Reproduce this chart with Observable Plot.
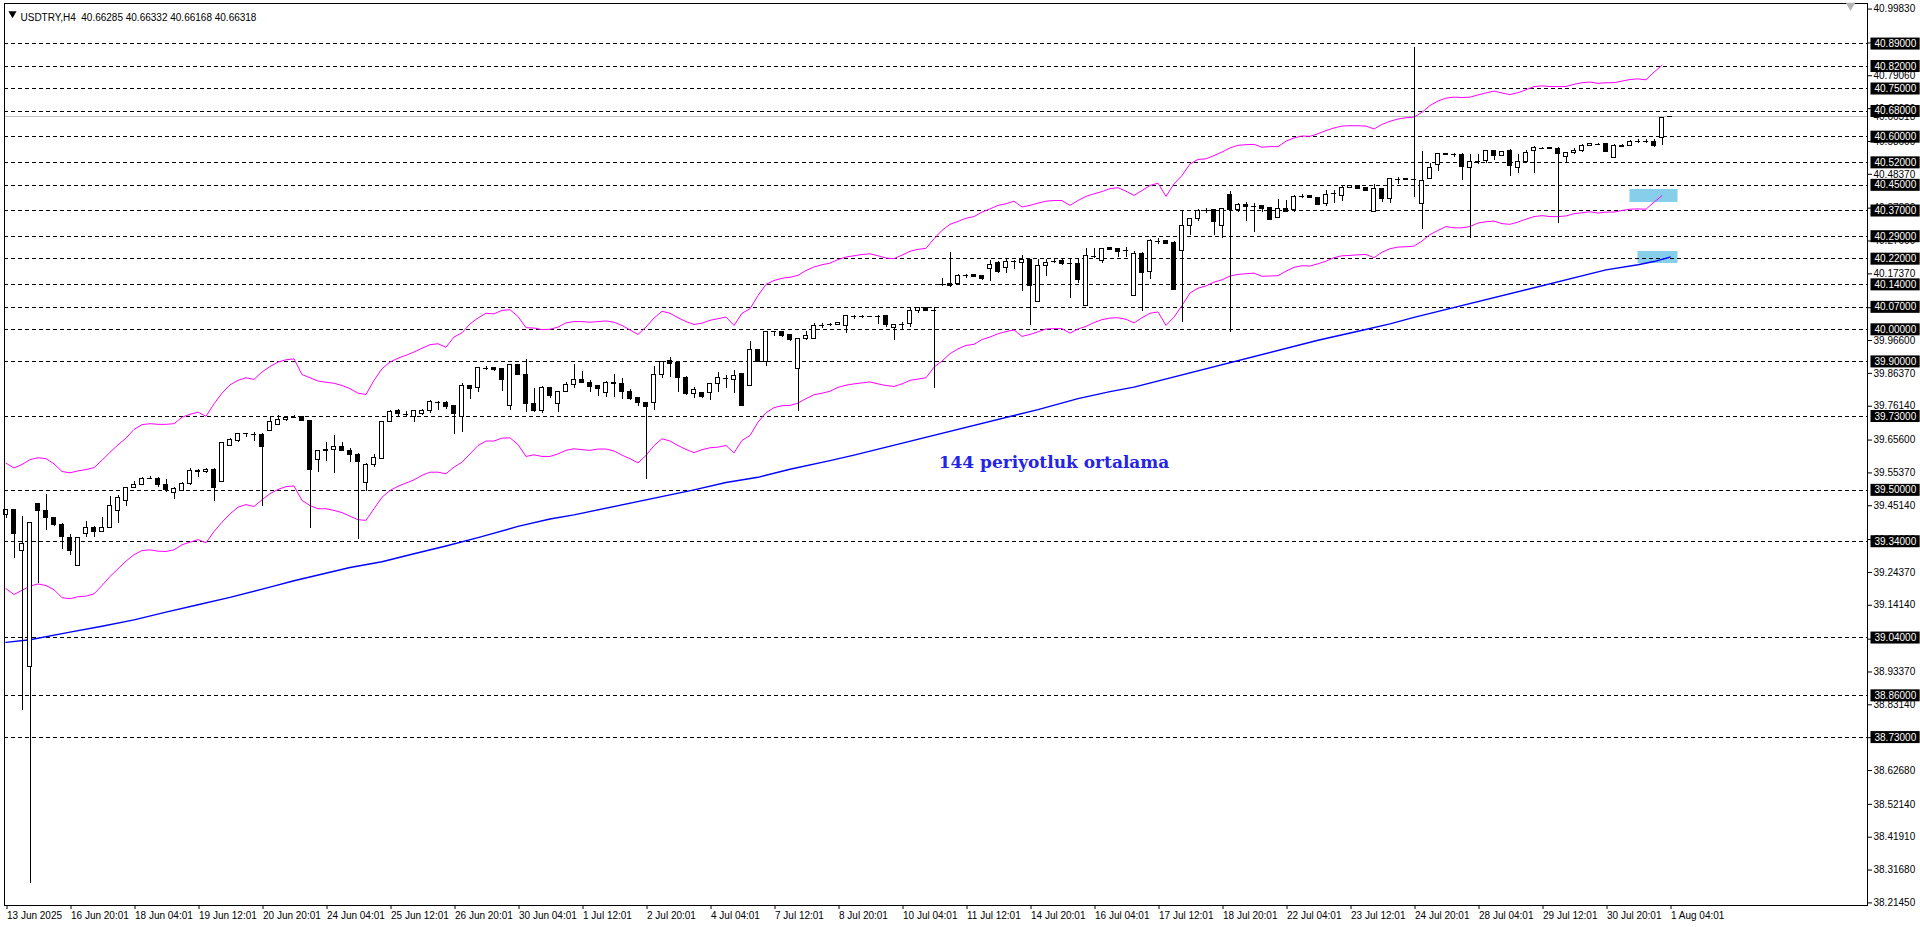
<!DOCTYPE html>
<html><head><meta charset="utf-8">
<script src="https://cdn.jsdelivr.net/npm/d3@7"></script>
<script src="https://cdn.jsdelivr.net/npm/@observablehq/plot@0.6"></script>
<style>
html,body{margin:0;padding:0;background:#fff;overflow:hidden;}
#chart{position:absolute;left:0;top:0;width:1920px;height:927px;}
</style></head><body><div id="chart"></div>
<script>
// ---- data (USDTRY H4) ----
const openP = [39.424,39.437,39.309,38.950,39.457,39.435,39.413,39.393,39.352,39.264,
39.364,39.383,39.370,39.383,39.436,39.467,39.507,39.517,39.536,39.535,
39.517,39.492,39.498,39.519,39.557,39.556,39.563,39.526,39.638,39.654,
39.675,39.672,39.672,39.685,39.704,39.719,39.727,39.727,39.716,39.595,
39.623,39.626,39.635,39.623,39.611,39.523,39.578,39.597,39.713,39.748,
39.736,39.727,39.737,39.747,39.774,39.772,39.761,39.727,39.825,39.819,
39.880,39.880,39.878,39.763,39.890,39.859,39.769,39.748,39.819,39.769,
39.806,39.828,39.844,39.835,39.823,39.802,39.832,39.831,39.807,39.786,
39.771,39.772,39.859,39.901,39.895,39.848,39.799,39.803,39.803,39.831,
39.849,39.844,39.862,39.825,39.935,39.900,39.994,39.994,39.982,39.878,
39.970,39.971,40.013,40.015,40.015,40.012,40.041,40.041,40.041,40.042,
40.041,40.006,40.017,40.018,40.058,40.068,40.060,40.140,40.143,40.143,
40.169,40.170,40.166,40.188,40.206,40.193,40.212,40.208,40.218,40.087,
40.199,40.211,40.213,40.206,40.203,40.073,40.229,40.213,40.253,40.250,
40.246,40.105,40.236,40.179,40.276,40.277,40.270,40.246,40.323,40.344,
40.370,40.371,40.323,40.419,40.373,40.389,40.384,40.384,40.379,40.348,
40.377,40.373,40.415,40.415,40.411,40.392,40.425,40.415,40.441,40.447,
40.440,40.365,40.439,40.406,40.469,40.470,40.467,40.392,40.470,40.513,
40.548,40.544,40.545,40.504,40.524,40.526,40.557,40.540,40.555,40.504,
40.523,40.556,40.565,40.566,40.564,40.538,40.550,40.557,40.571,40.576,
40.577,40.535,40.572,40.573,40.586,40.586,40.585,40.597,40.66285];
const highP = [39.437,39.437,39.418,39.399,39.458,39.487,39.415,39.397,39.362,39.352,
39.403,39.387,39.415,39.481,39.484,39.509,39.526,39.538,39.541,39.538,
39.532,39.509,39.523,39.569,39.565,39.569,39.567,39.648,39.662,39.676,
39.676,39.679,39.678,39.729,39.734,39.730,39.731,39.727,39.716,39.623,
39.648,39.671,39.648,39.629,39.613,39.582,39.610,39.715,39.748,39.751,
39.744,39.748,39.752,39.779,39.775,39.776,39.764,39.831,39.825,39.881,
39.886,39.881,39.879,39.890,39.890,39.906,39.818,39.823,39.821,39.807,
39.834,39.892,39.870,39.840,39.823,39.839,39.860,39.849,39.813,39.790,
39.774,39.885,39.901,39.912,39.895,39.854,39.821,39.804,39.832,39.865,
39.857,39.873,39.862,39.963,39.935,39.994,39.994,39.994,39.982,39.971,
39.994,40.020,40.020,40.020,40.021,40.042,40.043,40.044,40.042,40.043,
40.043,40.015,40.023,40.065,40.069,40.070,40.070,40.158,40.240,40.172,
40.171,40.170,40.169,40.215,40.212,40.218,40.215,40.231,40.218,40.218,
40.218,40.223,40.219,40.221,40.221,40.252,40.252,40.252,40.257,40.250,
40.256,40.243,40.240,40.280,40.283,40.277,40.273,40.368,40.346,40.373,
40.376,40.373,40.376,40.430,40.392,40.396,40.392,40.384,40.379,40.404,
40.402,40.418,40.421,40.419,40.411,40.433,40.433,40.447,40.450,40.447,
40.440,40.451,40.440,40.470,40.475,40.470,40.880,40.555,40.517,40.548,
40.548,40.550,40.548,40.545,40.545,40.558,40.557,40.556,40.561,40.546,
40.558,40.571,40.568,40.566,40.566,40.553,40.565,40.578,40.581,40.580,
40.580,40.577,40.577,40.589,40.591,40.591,40.593,40.660,40.66332];
const lowP = [39.411,39.286,38.814,38.275,39.208,39.375,39.387,39.316,39.297,39.264,
39.351,39.351,39.370,39.380,39.395,39.450,39.507,39.513,39.532,39.509,
39.494,39.472,39.497,39.513,39.538,39.551,39.466,39.526,39.638,39.647,
39.665,39.653,39.450,39.685,39.700,39.714,39.724,39.716,39.380,39.556,
39.589,39.553,39.623,39.587,39.345,39.497,39.572,39.597,39.713,39.727,
39.725,39.710,39.731,39.738,39.748,39.750,39.672,39.681,39.781,39.803,
39.873,39.871,39.808,39.748,39.859,39.743,39.741,39.738,39.785,39.743,
39.806,39.816,39.833,39.805,39.793,39.790,39.790,39.781,39.779,39.762,
39.534,39.748,39.849,39.852,39.805,39.795,39.787,39.787,39.779,39.803,
39.816,39.802,39.762,39.825,39.899,39.886,39.980,39.977,39.964,39.746,
39.966,39.970,40.004,40.010,40.015,39.989,40.033,40.036,40.040,40.016,
40.006,39.967,40.000,40.008,40.051,40.055,39.818,40.134,40.132,40.136,
40.158,40.161,40.153,40.151,40.176,40.176,40.187,40.120,40.014,40.087,
40.164,40.205,40.199,40.098,40.143,40.073,40.221,40.205,40.245,40.226,
40.226,40.105,40.055,40.155,40.264,40.265,40.124,40.021,40.294,40.336,
40.361,40.294,40.284,39.991,40.366,40.338,40.301,40.366,40.342,40.348,
40.367,40.364,40.409,40.409,40.389,40.385,40.394,40.400,40.438,40.436,
40.431,40.364,40.396,40.392,40.452,40.466,40.413,40.312,40.470,40.491,
40.545,40.537,40.463,40.283,40.513,40.518,40.528,40.540,40.478,40.485,
40.521,40.487,40.562,40.561,40.330,40.517,40.544,40.553,40.571,40.572,
40.553,40.535,40.569,40.573,40.581,40.581,40.566,40.572,40.66168];
const closeP = [39.437,39.364,39.333,39.399,39.435,39.414,39.392,39.354,39.310,39.352,
39.382,39.370,39.383,39.451,39.476,39.507,39.515,39.535,39.536,39.517,
39.501,39.504,39.520,39.560,39.561,39.563,39.506,39.648,39.655,39.676,
39.675,39.672,39.634,39.713,39.719,39.726,39.726,39.716,39.563,39.623,
39.625,39.635,39.623,39.610,39.588,39.579,39.600,39.713,39.743,39.737,
39.736,39.747,39.747,39.774,39.773,39.759,39.737,39.824,39.815,39.881,
39.880,39.875,39.844,39.890,39.859,39.769,39.748,39.819,39.792,39.805,
39.828,39.844,39.833,39.821,39.816,39.834,39.834,39.805,39.784,39.771,
39.759,39.859,39.899,39.894,39.849,39.798,39.811,39.789,39.831,39.848,
39.849,39.857,39.762,39.935,39.899,39.994,39.994,39.980,39.968,39.971,
39.979,40.011,40.013,40.015,40.021,40.042,40.041,40.041,40.040,40.042,
40.015,40.015,40.017,40.059,40.068,40.058,40.059,40.140,40.136,40.168,
40.169,40.164,40.157,40.202,40.179,40.212,40.212,40.218,40.137,40.199,
40.208,40.211,40.205,40.205,40.155,40.229,40.229,40.252,40.248,40.241,
40.246,40.236,40.176,40.277,40.276,40.268,40.124,40.323,40.345,40.370,
40.370,40.336,40.375,40.373,40.389,40.382,40.384,40.377,40.342,40.376,
40.367,40.413,40.415,40.409,40.389,40.419,40.425,40.442,40.448,40.438,
40.431,40.439,40.406,40.470,40.469,40.466,40.465,40.464,40.503,40.548,
40.545,40.544,40.506,40.522,40.524,40.557,40.540,40.554,40.510,40.522,
40.551,40.566,40.565,40.561,40.547,40.551,40.557,40.571,40.577,40.576,
40.553,40.571,40.569,40.585,40.586,40.586,40.572,40.660,40.66318];

// Bollinger bands (upper / lower), one value per bar 0..207
const upperBand = [39.584,39.569,39.580,39.595,39.601,39.598,39.582,39.558,39.554,39.560,39.564,39.570,39.593,39.618,39.641,39.662,39.689,39.704,39.707,39.705,39.705,39.707,39.727,39.736,39.743,39.730,39.769,39.802,39.828,39.842,39.850,39.845,39.868,39.885,39.899,39.906,
39.909,39.860,39.850,39.840,39.836,39.833,39.826,39.816,39.802,39.798,39.842,39.878,39.899,39.911,39.920,39.930,39.942,39.953,39.956,39.945,39.977,39.990,40.018,40.036,40.051,40.049,40.060,40.062,40.041,40.006,40.005,40.000,40.001,40.008,40.021,
40.025,40.025,40.023,40.025,40.027,40.023,40.013,39.999,39.985,40.008,40.036,40.057,40.051,40.037,40.025,40.016,40.020,40.029,40.034,40.039,40.013,40.051,40.065,40.106,40.141,40.153,40.160,40.163,40.169,40.184,40.195,40.202,40.207,40.218,40.226,
40.230,40.234,40.236,40.230,40.223,40.221,40.232,40.244,40.250,40.253,40.283,40.309,40.328,40.337,40.347,40.352,40.366,40.376,40.387,40.392,40.400,40.382,40.387,40.394,40.400,40.402,40.402,40.387,40.402,40.415,40.423,40.430,40.439,40.442,
40.431,40.418,40.433,40.449,40.456,40.415,40.454,40.480,40.516,40.530,40.532,40.542,40.553,40.566,40.574,40.576,40.577,40.568,40.570,40.570,40.587,40.597,40.603,40.602,40.610,40.620,40.628,40.634,40.635,40.635,40.634,40.625,40.639,40.649,40.656,40.660,
40.662,40.677,40.698,40.712,40.721,40.724,40.723,40.724,40.731,40.737,40.743,40.737,40.732,40.738,40.747,40.757,40.759,40.757,40.757,40.757,40.764,40.769,40.771,40.767,40.769,40.769,40.774,40.779,40.781,40.778,40.802,40.823];
const lowerBand = [39.193,39.175,39.188,39.201,39.208,39.203,39.190,39.165,39.162,39.168,39.170,39.177,39.203,39.231,39.255,39.279,39.299,39.312,39.314,39.310,39.309,39.314,39.330,39.338,39.346,39.336,39.371,39.400,39.426,39.447,39.455,39.449,39.470,39.489,39.502,39.511,
39.513,39.468,39.452,39.442,39.442,39.437,39.430,39.419,39.408,39.406,39.442,39.478,39.499,39.512,39.522,39.532,39.546,39.556,39.556,39.551,39.572,39.587,39.613,39.639,39.653,39.653,39.662,39.663,39.642,39.605,39.610,39.605,39.605,39.613,39.624,
39.629,39.626,39.624,39.628,39.628,39.622,39.609,39.598,39.585,39.608,39.639,39.660,39.653,39.639,39.627,39.617,39.626,39.632,39.634,39.639,39.616,39.655,39.670,39.712,39.741,39.757,39.763,39.764,39.771,39.785,39.797,39.802,39.808,39.820,39.827,
39.831,39.834,39.837,39.831,39.826,39.823,39.831,39.842,39.846,39.850,39.883,39.902,39.925,39.940,39.951,39.954,39.969,39.977,39.987,39.994,39.999,39.979,39.985,39.993,40.002,40.003,40.003,39.989,40.002,40.010,40.022,40.031,40.036,40.037,
40.032,40.021,40.037,40.051,40.055,40.013,40.039,40.075,40.114,40.129,40.136,40.148,40.155,40.167,40.172,40.174,40.176,40.166,40.167,40.168,40.182,40.194,40.199,40.198,40.205,40.213,40.224,40.230,40.231,40.233,40.234,40.224,40.241,40.252,40.257,40.258,
40.260,40.276,40.296,40.309,40.321,40.317,40.317,40.321,40.332,40.336,40.338,40.330,40.328,40.335,40.344,40.352,40.355,40.352,40.352,40.354,40.361,40.364,40.367,40.363,40.366,40.366,40.371,40.375,40.376,40.375,40.397,40.417];

// 144-period moving average, read at these bars
const maBars   = [0,3,8,12,16,20,24,28,33,36,43,47,51,55,59,64,68,71,86,90,94,98,103,106,129,134,138,141,164,169,173,176,200,204,206,208];
const maValues = [39.026,39.034,39.058,39.076,39.096,39.120,39.143,39.166,39.198,39.218,39.259,39.277,39.302,39.326,39.352,39.387,39.410,39.423,39.501,39.524,39.540,39.565,39.592,39.609,39.751,39.785,39.807,39.821,39.967,39.995,40.018,40.038,40.186,40.202,40.212,40.226];

const levels = [40.89,40.82,40.75,40.68,40.60,40.52,40.45,40.37,40.29,40.22,40.14,40.07,40.00,39.90,39.73,39.50,39.34,39.04,38.86,38.73];
const priceTicks = [38.2145,38.3168,38.4191,38.5214,38.6268,38.7291,38.8314,38.9337,39.0360,39.1414,39.2437,39.3460,39.4514,39.5537,39.6560,39.7614,39.8637,39.9660,40.0683,40.1737,40.2760,40.3783,40.4837,40.5860,40.6883,40.7906,40.8929,40.9983];
const timeLabels = ["13 Jun 2025","16 Jun 20:01","18 Jun 04:01","19 Jun 12:01","20 Jun 20:01","24 Jun 04:01","25 Jun 12:01","26 Jun 20:01","30 Jun 04:01","1 Jul 12:01","2 Jul 20:01","4 Jul 04:01","7 Jul 12:01","8 Jul 20:01","10 Jul 04:01","11 Jul 12:01","14 Jul 20:01","16 Jul 04:01","17 Jul 12:01","18 Jul 20:01","22 Jul 04:01","23 Jul 12:01","24 Jul 20:01","28 Jul 04:01","29 Jul 12:01","30 Jul 20:01","1 Aug 04:01"];
const barsPerLabel = 8;
const bidPrice = 40.66318;
const titleText = "USDTRY,H4  40.66285 40.66332 40.66168 40.66318";
const noteText = "144 periyotluk ortalama";
const noteBar = 131, notePrice = 39.586;
const zoneBar1 = [203, 204], zoneBar2 = [209, 209];
const zoneTop = [40.4365, 40.2434], zoneBottom = [40.396, 40.206];

// ---- build ----
const candles = openP.map((o, i) => ({i, o, h: highP[i], l: lowP[i], c: closeP[i]}));
const isDoji = d => Math.abs(d.o - d.c) < 0.0016;
const bull = candles.filter(d => !isDoji(d) && d.c > d.o);
const bear = candles.filter(d => !isDoji(d) && d.c < d.o);
const doji = candles.filter(isDoji);
const upper = upperBand.map((v, i) => ({i, v}));
const lower = lowerBand.map((v, i) => ({i, v}));
const ma = maBars.map((b, k) => ({b, v: maValues[k]}));
const zones = zoneTop.map((t, k) => ({b1: zoneBar1[k], b2: zoneBar2[k], t, btm: zoneBottom[k]}));
const labelBars = timeLabels.map((_, k) => k * barsPerLabel);
const half = 0.25;
const LEVEL_FILL = "#fffffe", BID_FILL = "#010101";

const chart = Plot.plot({
  width: 1920, height: 927,
  marginLeft: 4, marginRight: 53, marginTop: 3, marginBottom: 22,
  style: {fontFamily: "'Liberation Sans', Arial, sans-serif", fontSize: "10px", color: "black", background: "white", overflow: "visible"},
  x: {type: "linear", domain: [-0.1875, 232.6875]},
  y: {type: "linear", domain: [38.2064, 41.0157]},
  marks: [
    Plot.rect(zones, {x1: "b1", x2: "b2", y1: "btm", y2: "t", fill: "#87ceeb"}),
    Plot.ruleY(levels, {stroke: "black", strokeDasharray: "4,3", shapeRendering: "crispEdges"}),
    Plot.ruleY([bidPrice], {stroke: "#c0c0c0", shapeRendering: "crispEdges"}),
    Plot.line(upper, {x: "i", y: "v", stroke: "#ff00ff", strokeWidth: 1}),
    Plot.line(lower, {x: "i", y: "v", stroke: "#ff00ff", strokeWidth: 1}),
    Plot.line(ma, {x: "b", y: "v", stroke: "#0000ff", strokeWidth: 1.4}),
    Plot.ruleX(candles, {x: "i", y1: "l", y2: "h", stroke: "black", shapeRendering: "crispEdges"}),
    Plot.rect(bull, {x1: d => d.i - half, x2: d => d.i + half, y1: "o", y2: "c", fill: "white", stroke: "black", shapeRendering: "crispEdges"}),
    Plot.rect(bear, {x1: d => d.i - half, x2: d => d.i + half, y1: "o", y2: "c", fill: "black", stroke: "black", shapeRendering: "crispEdges"}),
    Plot.ruleY(doji, {y: "c", x1: d => d.i - half - 0.0625, x2: d => d.i + half + 0.0625, stroke: "black", shapeRendering: "crispEdges"}),
    Plot.text([noteText], {x: () => noteBar, y: () => notePrice, text: d => d, fill: "#2424e6", fontSize: 17, fontWeight: "bold", fontFamily: "'DejaVu Serif', serif"}),
    Plot.frame({stroke: "black", shapeRendering: "crispEdges"}),
    Plot.axisX({ticks: labelBars, tickFormat: d => timeLabels[d / barsPerLabel], tickSize: 4, tickPadding: 2, textAnchor: "start", dx: 1, label: null, fontSize: 10}),
    Plot.axisY({anchor: "right", ticks: priceTicks, tickFormat: d => d.toFixed(5), tickSize: 4, tickPadding: 2, label: null, fontSize: 10}),
    Plot.text([bidPrice], {y: d => d, frameAnchor: "right", dx: 6, textAnchor: "start", text: d => d.toFixed(5), fill: BID_FILL, fontSize: 10}),
    Plot.text(levels, {y: d => d, frameAnchor: "right", dx: 7, textAnchor: "start", text: d => d.toFixed(5), fill: LEVEL_FILL, fontSize: 10}),
    Plot.dot([0], {frameAnchor: "top-left", dx: 8, dy: 10, symbol: "triangle", r: 3, fill: "black", rotate: 180}),
    Plot.text([titleText], {frameAnchor: "top-left", dx: 16, dy: 10, textAnchor: "start", text: d => d, fontSize: 10, fill: "black"}),
    Plot.dot([0], {frameAnchor: "top-right", dx: -17, dy: 2, symbol: "triangle", r: 3.5, fill: "#b4b4b4", rotate: 180})
  ]
});
document.getElementById("chart").append(chart);

// boxes behind the level labels and the bid label (same transform as each text)
const NS = "http://www.w3.org/2000/svg";
function boxes(textFill, boxFill) {
  chart.querySelectorAll("text").forEach(t => {
    const g = t.closest("g");
    const f = (t.getAttribute("fill") || (g && g.getAttribute("fill")) || "").toLowerCase();
    if (f !== textFill) return;
    const b = t.getBBox();
    const r = document.createElementNS(NS, "rect");
    r.setAttribute("x", b.x - 4); r.setAttribute("width", b.width + 7);
    r.setAttribute("y", b.y + b.height / 2 - 6); r.setAttribute("height", 12);
    r.setAttribute("fill", boxFill);
    const tr = t.getAttribute("transform");
    if (tr) r.setAttribute("transform", tr);
    t.parentNode.insertBefore(r, t);
  });
}
boxes(BID_FILL, "white");
boxes(LEVEL_FILL, "black");
</script></body></html>
